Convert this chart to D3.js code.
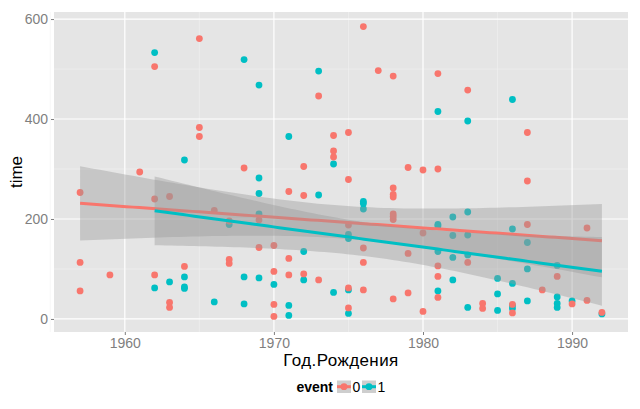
<!DOCTYPE html>
<html lang="ru">
<head>
<meta charset="utf-8">
<title>time vs Год.Рождения</title>
<script src="https://cdn.jsdelivr.net/npm/d3@7"></script>
<style>
  body { margin: 0; background: #fff; }
  text { font-family: "Liberation Sans", Arial, sans-serif; }
</style>
</head>
<body>
<script>
// event = 0
var year0 = [1957,1957,1957,1959,1961,1962,1962,1962,1963,1963,1963,1964,1965,1965,1965,1966,1967,1967,1967,
  1968,1969,1969,1970,1970,1970,1970,1971,1971,1971,1972,1972,1972,1973,1973,1974,1974,1974,
  1975,1975,1975,1975,1975,1976,1976,1976,1976,1977,1978,1978,1978,1978,1978,1978,1978,1978,
  1979,1979,1979,1980,1980,1980,1981,1981,1981,1981,1981,1983,1983,1984,1984,1986,1986,
  1987,1987,1987,1988,1989,1990,1991,1991,1992];
var time0 = [253,113,56,88,294,505,240,88,245,33,23,105,561,383,365,217,196,119,111,
  302,198,143,147,95,29,5,255,121,88,305,247,90,446,78,367,336,324,
  373,279,188,62,22,585,142,113,58,497,486,262,249,244,210,205,199,40,
  303,131,52,298,172,15,491,300,106,85,43,458,113,31,21,29,12,
  373,276,189,58,85,30,182,37,13];
// event = 1
var year1 = [1962,1962,1963,1964,1964,1964,1964,1966,1967,1968,1968,1968,1969,1969,1969,1969,1969,
  1970,1971,1971,1971,1972,1972,1973,1973,1974,1974,1975,1975,1975,1975,1976,1976,1976,
  1981,1981,1981,1981,1981,1982,1982,1982,1982,1983,1983,1983,1983,1983,1985,1985,1985,
  1986,1986,1986,1986,1986,1987,1987,1987,1989,1989,1989,1989,1990,1992];
var time1 = [533,62,74,318,84,64,61,34,189,519,84,30,468,282,251,210,82,
  69,365,27,7,135,78,496,248,310,53,169,161,58,11,235,231,220,
  415,189,186,135,56,204,167,123,78,396,214,168,128,23,81,50,17,
  439,180,71,27,21,153,100,36,107,44,31,23,36,10];

var xTicks = [1960, 1970, 1980, 1990];
var yTicks = [0, 200, 400, 600];
var groups = ["0", "1"];
var colors = ["#F8766D", "#00BFC4"];

var W = 640, H = 409;
var pL = 54, pR = 628, pT = 12, pB = 332;

var svg = d3.select("body").append("svg")
    .attr("width", W)
    .attr("height", H);

// ggplot style 5% expansion of the data range
var xr = [1957, 1992], yr = [3, 585];
var dx = (xr[1] - xr[0]) * 0.05, dy = (yr[1] - yr[0]) * 0.05;
var x = d3.scaleLinear().domain([xr[0] - dx, xr[1] + dx]).range([pL, pR]);
var y = d3.scaleLinear().domain([yr[0] - dy, yr[1] + dy]).range([pB, pT]);

/* PANEL AND GRID */

svg.append("rect")
    .attr("x", pL).attr("y", pT)
    .attr("width", pR - pL).attr("height", pB - pT)
    .attr("fill", "#E5E5E5");

var xMinor = [1955, 1965, 1975, 1985];
var yMinor = [100, 300, 500];
xMinor.forEach(function (v) {
    svg.append("line").attr("x1", x(v)).attr("x2", x(v)).attr("y1", pT).attr("y2", pB)
        .attr("stroke", "#F2F2F2").attr("stroke-width", 0.6);
});
yMinor.forEach(function (v) {
    svg.append("line").attr("x1", pL).attr("x2", pR).attr("y1", y(v)).attr("y2", y(v))
        .attr("stroke", "#F2F2F2").attr("stroke-width", 0.6);
});
xTicks.forEach(function (v) {
    svg.append("line").attr("x1", x(v)).attr("x2", x(v)).attr("y1", pT).attr("y2", pB)
        .attr("stroke", "#FFFFFF").attr("stroke-width", 1.2);
});
yTicks.forEach(function (v) {
    svg.append("line").attr("x1", pL).attr("x2", pR).attr("y1", y(v)).attr("y2", y(v))
        .attr("stroke", "#FFFFFF").attr("stroke-width", 1.2);
});

/* AXES */

var xAxis = svg.append("g")
    .attr("transform", "translate(0," + pB + ")")
    .call(d3.axisBottom(x).tickValues(xTicks).tickFormat(d3.format("d")).tickSize(3).tickPadding(3));
var yAxis = svg.append("g")
    .attr("transform", "translate(" + pL + ",0)")
    .call(d3.axisLeft(y).tickValues(yTicks).tickSize(3).tickPadding(3));
[xAxis, yAxis].forEach(function (g) {
    g.select(".domain").remove();
    g.selectAll("line").attr("stroke", "#7F7F7F");
    g.selectAll("text").attr("fill", "#7F7F7F").attr("font-size", 14)
        .style("font-family", "'Liberation Sans', Arial, sans-serif");
});

/* POINTS */

var pts = [];
year1.forEach(function (v, i) { pts.push({ x: v, y: time1[i], g: 1 }); });
year0.forEach(function (v, i) { pts.push({ x: v, y: time0[i], g: 0 }); });

svg.append("g").selectAll("circle")
    .data(pts)
    .enter().append("circle")
    .attr("cx", function (d) { return x(d.x); })
    .attr("cy", function (d) { return y(d.y); })
    .attr("r", 3.4)
    .attr("fill", function (d) { return colors[d.g]; });

/* LINEAR FITS WITH 95% BANDS */

function tQuant(df) {
    var z = 1.959964;
    return z + (z * z * z + z) / (4 * df)
        + (5 * Math.pow(z, 5) + 16 * z * z * z + 3 * z) / (96 * df * df);
}

function fit(xs, ys) {
    var n = xs.length;
    var mx = d3.mean(xs), my = d3.mean(ys);
    var sxx = d3.sum(xs, function (v) { return (v - mx) * (v - mx); });
    var sxy = d3.sum(xs, function (v, i) { return (v - mx) * (ys[i] - my); });
    var b = sxy / sxx, a = my - b * mx;
    var sse = d3.sum(xs, function (v, i) { var r = ys[i] - (a + b * v); return r * r; });
    var s = Math.sqrt(sse / (n - 2));
    var t = tQuant(n - 2);
    var lo = d3.min(xs), hi = d3.max(xs);
    return d3.range(80).map(function (k) {
        var xv = lo + (hi - lo) * k / 79;
        var yv = a + b * xv;
        var se = s * Math.sqrt(1 / n + (xv - mx) * (xv - mx) / sxx);
        return { x: xv, y: yv, lo: yv - t * se, hi: yv + t * se };
    });
}

var fits = [fit(year0, time0), fit(year1, time1)];

var area = d3.area()
    .x(function (d) { return x(d.x); })
    .y0(function (d) { return y(d.lo); })
    .y1(function (d) { return y(d.hi); });
var line = d3.line()
    .x(function (d) { return x(d.x); })
    .y(function (d) { return y(d.y); });

fits.forEach(function (f, i) {
    svg.append("path").attr("d", area(f))
        .attr("fill", "#999999").attr("fill-opacity", 0.4);
    svg.append("path").attr("d", line(f))
        .attr("fill", "none").attr("stroke", colors[i]).attr("stroke-width", 3);
});

/* TITLES */

svg.append("text")
    .attr("x", (pL + pR) / 2).attr("y", 366)
    .attr("text-anchor", "middle")
    .attr("font-size", 17)
    .attr("letter-spacing", 0.4)
    .attr("fill", "#000")
    .text("Год.Рождения");

svg.append("text")
    .attr("transform", "translate(22," + (pT + pB) / 2 + ") rotate(-90)")
    .attr("text-anchor", "middle")
    .attr("font-size", 17)
    .attr("fill", "#000")
    .text("time");

/* LEGEND */

var lg = svg.append("g");
lg.append("text")
    .attr("x", 333).attr("y", 391.5)
    .attr("text-anchor", "end")
    .attr("font-size", 14)
    .attr("font-weight", "bold")
    .attr("fill", "#000")
    .text("event");

var keyX = [337, 362];
groups.forEach(function (g, i) {
    var kx = keyX[i];
    lg.append("rect").attr("x", kx).attr("y", 380.5).attr("width", 14).attr("height", 12.5)
        .attr("fill", "#CECECE");
    lg.append("line").attr("x1", kx).attr("x2", kx + 14).attr("y1", 386.7).attr("y2", 386.7)
        .attr("stroke", colors[i]).attr("stroke-width", 3);
    lg.append("circle").attr("cx", kx + 7).attr("cy", 386.7).attr("r", 3.4)
        .attr("fill", colors[i]);
    lg.append("text")
        .attr("x", kx + 15.5).attr("y", 391.5)
        .attr("font-size", 14)
        .attr("fill", "#000")
        .text(g);
});
</script>
</body>
</html>
